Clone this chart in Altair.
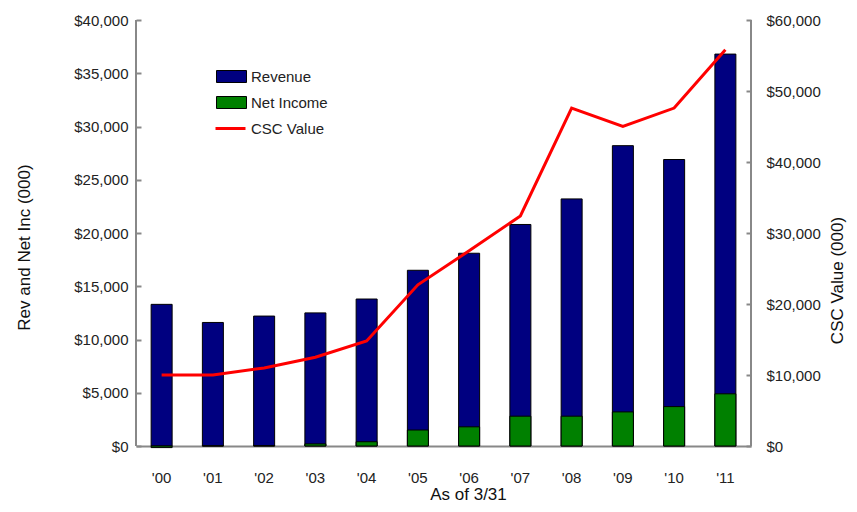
import altair as alt
import pandas as pd

years = ["'00", "'01", "'02", "'03", "'04", "'05", "'06", "'07", "'08", "'09", "'10", "'11"]
revenue = [13300, 11600, 12200, 12500, 13800, 16500, 18100, 20800, 23200, 28200, 26900, 36800]
net_income = [-150, 20, 40, 200, 400, 1500, 1800, 2800, 2800, 3200, 3700, 4900]
csc_value = [10000, 10000, 11000, 12500, 14800, 22700, 27500, 32400, 47600, 45000, 47600, 55800]

bar_series = ["Revenue", "Net Income"]
bar_colors = ["#000080", "#008000"]
line_series = ["CSC Value"]
line_colors = ["#FF0000"]

bars_df = pd.DataFrame(
    [{"year": y, "series": "Revenue", "value": v, "o": 0} for y, v in zip(years, revenue)]
    + [{"year": y, "series": "Net Income", "value": v, "o": 1} for y, v in zip(years, net_income)]
)
line_df = pd.DataFrame({"year": years, "series": "CSC Value", "value": csc_value})

LABEL_FONT = "Liberation Sans"
TITLE_FONT = "Liberation Sans"
W, H = 615, 426

x_enc = alt.X(
    "year:N",
    sort=years,
    scale=alt.Scale(paddingInner=0.59, paddingOuter=0.295),
    axis=alt.Axis(
        title="As of 3/31",
        labelAngle=0,
        ticks=False,
        labelPadding=24,
        titleX=332,
        titleY=40,
        titleAnchor="middle",
    ),
)

bars = alt.Chart(bars_df).mark_bar(stroke="black", strokeWidth=1, size=21).encode(
    x=x_enc,
    y=alt.Y(
        "value:Q",
        stack=None,
        scale=alt.Scale(domain=[0, 40000], nice=False),
        axis=alt.Axis(
            title="Rev and Net Inc (000)",
            format="$,.0f",
            values=list(range(0, 40001, 5000)),
            orient="left",
            offset=-5,
            tickSize=5,
            domain=False,
            labelPadding=8,
            titlePadding=40,
            titleY=227,
        ),
    ),
    fill=alt.Fill(
        "series:N",
        scale=alt.Scale(domain=bar_series, range=bar_colors),
        legend=alt.Legend(
            title=None,
            orient="none",
            legendX=85,
            legendY=46,
            symbolType="M-1.5,-0.6H1.5V0.6H-1.5Z",
            symbolSize=400,
            symbolStrokeColor="black",
            symbolStrokeWidth=1,
            labelOffset=9,
            rowPadding=7,
        ),
    ),
    order=alt.Order("o:Q"),
)

line = alt.Chart(line_df).mark_line(strokeWidth=3).encode(
    x=alt.X("year:N", sort=years),
    y=alt.Y(
        "value:Q",
        scale=alt.Scale(domain=[0, 60000], nice=False),
        axis=alt.Axis(
            title="CSC Value (000)",
            format="$,.0f",
            values=list(range(0, 60001, 10000)),
            orient="right",
            offset=-5,
            tickSize=5,
            domain=False,
            labelPadding=15,
            titlePadding=26,
            titleAngle=270,
            titleY=260,
        ),
    ),
    stroke=alt.Stroke(
        "series:N",
        scale=alt.Scale(domain=line_series, range=line_colors),
        legend=alt.Legend(
            title=None,
            orient="none",
            legendX=78,
            legendY=92,
            symbolType="stroke",
            symbolSize=900,
            symbolStrokeWidth=3,
            labelOffset=4,
        ),
    ),
)

left_domain = alt.Chart(line_df).mark_rule(color="#888888", strokeWidth=2).encode(
    x=alt.value(0), y=alt.value(0), y2=alt.value(H)
)
right_domain = alt.Chart(line_df).mark_rule(color="#888888", strokeWidth=2).encode(
    x=alt.value(W), y=alt.value(0), y2=alt.value(H)
)

chart = (
    alt.layer(bars, line, left_domain, right_domain)
    .resolve_scale(y="independent", fill="independent", stroke="independent")
    .properties(
        width=W,
        height=H,
        autosize=alt.AutoSizeParams(type="none"),
        padding={"left": 128, "top": 12, "right": 98, "bottom": 58},
    )
    .configure_view(stroke=None)
    .configure_axis(
        labelFont=LABEL_FONT,
        labelFontSize=15,
        labelColor="#222222",
        titleFont=TITLE_FONT,
        titleFontSize=17,
        titleFontWeight="normal",
        titleColor="#111111",
        tickColor="#888888",
        tickWidth=2,
        domainColor="#888888",
        domainWidth=2,
        grid=False,
    )
    .configure_legend(
        labelFont=LABEL_FONT,
        labelFontSize=15,
        labelColor="#222222",
    )
)

chart.save("out.html", embed_options={"renderer": "svg", "actions": False})
